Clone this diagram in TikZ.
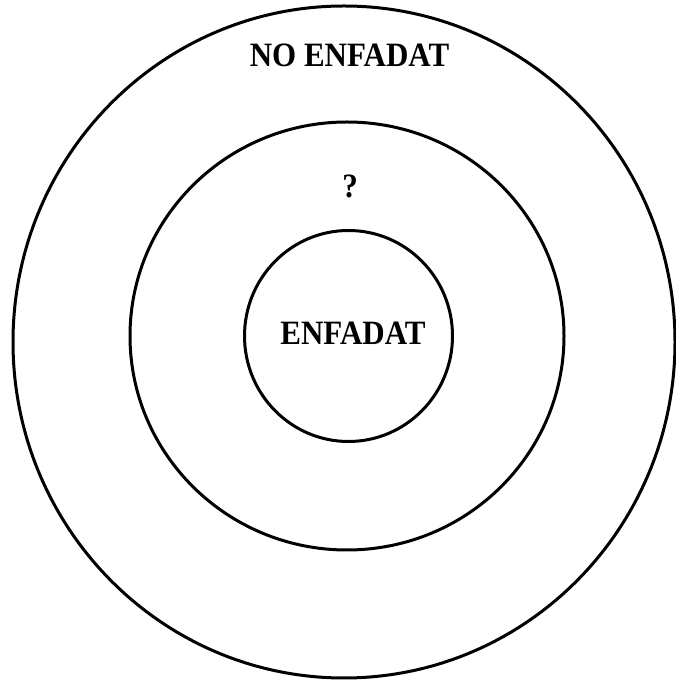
\documentclass[tikz,border=0pt]{standalone}
\usepackage{fontspec}
\usepackage{graphicx}
\setmainfont{Liberation Serif}
\usetikzlibrary{positioning,shapes.geometric}
\tikzset{
  ring/.style={draw=black, line width=3pt, ellipse, inner sep=0pt},
  lbl/.style={font=\fontsize{31}{34}\selectfont\bfseries, inner sep=0pt},
}
\newcommand{\tall}[1]{\scalebox{1}[1.1]{#1}}

\begin{document}
\begin{tikzpicture}[x=1pt, y=1pt]
    \useasboundingbox (0,0) rectangle (675,680);
    \node[ring, minimum width=662pt, minimum height=672pt] (outer) at (344,338) {};
    \node[ring, minimum width=434pt, minimum height=428pt] (mid) at (347,344) {};
    \node[ring, minimum width=208pt, minimum height=211pt] (inner) at (348.5,344) {};
    \node[lbl] (notangry) at (349.5,624.5) {\tall{NO ENFADAT}};
    \node[lbl] (unknown) at (350,494) {\tall{?}};
    \node[lbl] (angry) at (353,347) {\tall{ENFADAT}};
  \end{tikzpicture}
\end{document}
